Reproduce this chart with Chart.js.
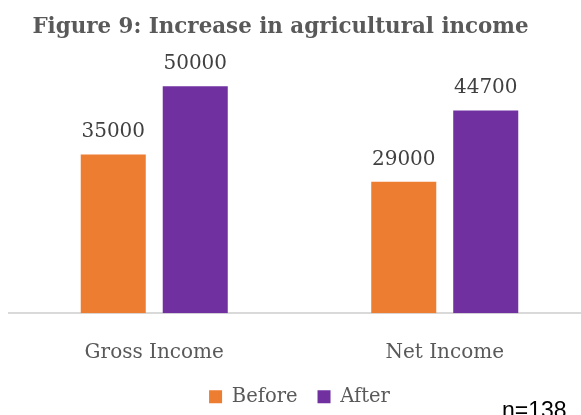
<!DOCTYPE html>
<html>
<head>
<meta charset="utf-8">
<script src="https://cdn.jsdelivr.net/npm/chart.js"></script>
<style>
  html, body { margin: 0; padding: 0; background: #fff; overflow: hidden; }
  #wrap { position: relative; width: 600px; height: 415px; }
</style>
</head>
<body>
<div id="wrap"><canvas id="incomeChart"></canvas></div>
<script>
// Income categories and averages per series
const categories = ["Gross Income", "Net Income"];
const beforeValues = [35000, 29000];
const afterValues = [50000, 44700];
const seriesNames = ["Before", "After"];
const chartTitle = "Figure 9: Increase in agricultural income";
const sampleNote = "n=138";

const SERIF = "'DejaVu Serif', serif";

// value labels above each bar
const barLabels = {
  id: "barLabels",
  afterDatasetsDraw(chart) {
    const ctx = chart.ctx;
    ctx.save();
    ctx.font = "20px " + SERIF;
    ctx.fillStyle = "#404040";
    ctx.textAlign = "center";
    ctx.textBaseline = "alphabetic";
    chart.data.datasets.forEach((ds, i) => {
      chart.getDatasetMeta(i).data.forEach((bar, j) => {
        ctx.fillText(String(ds.data[j]), bar.x, bar.y - 17);
      });
    });
    ctx.restore();
  }
};

// heading and sample size note
const extraText = {
  id: "extraText",
  afterDraw(chart) {
    const ctx = chart.ctx;
    ctx.save();
    ctx.textBaseline = "alphabetic";
    ctx.textAlign = "center";
    ctx.font = "bold 21.4px " + SERIF;
    ctx.fillStyle = "#595959";
    ctx.fillText(chartTitle, 280.5, 33);
    ctx.textAlign = "left";
    ctx.font = "23px 'Liberation Sans', sans-serif";
    ctx.fillStyle = "#000";
    ctx.fillText(sampleNote, 502, 418);
    ctx.restore();
  }
};

new Chart(document.getElementById("incomeChart"), {
  type: "bar",
  data: {
    labels: categories,
    datasets: [
      { label: seriesNames[0], data: beforeValues, backgroundColor: "#ED7D31" },
      { label: seriesNames[1], data: afterValues, backgroundColor: "#7030A0" }
    ]
  },
  options: {
    responsive: true,
    maintainAspectRatio: false,
    animation: false,
    categoryPercentage: 0.5645,
    barPercentage: 0.793,
    layout: { padding: { top: 41, left: 9, right: 10, bottom: -1.5 } },
    scales: {
      x: {
        grid: { display: false, drawTicks: false },
        border: { display: true, color: "#D9D9D9", width: 2 },
        ticks: { color: "#595959", font: { family: SERIF, size: 20 }, padding: 28 },
        afterFit(scale) { scale.height = 53.8; }
      },
      y: {
        display: false,
        min: 0,
        max: 60000
      }
    },
    plugins: {
      title: { display: false },
      tooltip: { enabled: false },
      legend: {
        position: "bottom",
        labels: {
          boxWidth: 13,
          boxHeight: 13,
          padding: 20,
          color: "#595959",
          font: { family: SERIF, size: 19.5 }
        }
      }
    }
  },
  plugins: [barLabels, extraText]
});
</script>
</body>
</html>
